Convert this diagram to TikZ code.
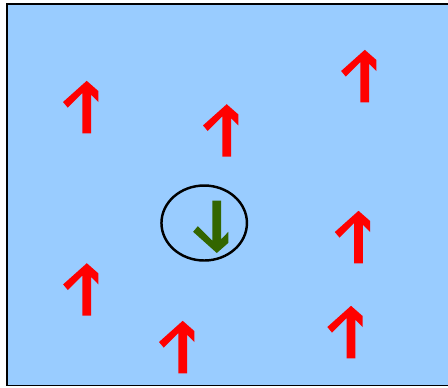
\documentclass[tikz,border=0pt]{standalone}
\usepackage{xcolor}
\usetikzlibrary{shapes.geometric}
\definecolor{sky}{HTML}{99CCFF}
\definecolor{spinred}{HTML}{FF0000}
\definecolor{spingreen}{HTML}{336600}

\tikzset{
  spin/.pic={
    \fill (-4.4,0) -- (4.4,0) -- (4.4,-38.6) -- (11.6,-31.3) -- (11.6,-42.3)
      -- (0,-52.5) -- (-23.7,-31.3) -- (-19,-25.7) -- (-4.4,-40.3) -- cycle;
  },
  ring/.style={ellipse, draw, line width=1.4pt, inner sep=0pt,
               minimum width=1.71cm, minimum height=1.5cm}
}

\begin{document}
\begin{tikzpicture}[x=0.02cm, y=-0.02cm]
\clip (0,0) rectangle (448,387);

% ---- Frame ----
\fill[sky] (7,4) rectangle (470,385.5);
\draw[line width=0.85pt] (470,4) -- (7,4) -- (7,385.5) -- (470,385.5);

% ---- Up spins ----
\pic[spinred] (s1) at (86.7,133.3) {spin};
\pic[spinred] (s2) at (364.8,102.3) {spin};
\pic[spinred] (s3) at (226.7,156.7) {spin};
\pic[spinred] (s4) at (358.5,263.3) {spin};
\pic[spinred] (s5) at (86.8,315.7) {spin};
\pic[spinred] (s6) at (182.7,373.3) {spin};
\pic[spinred] (s7) at (351,358.3) {spin};

% ---- Flipped spin ----
\pic[spingreen, yscale=-1] (flip) at (216.8,200.5) {spin};
\node[ring] (hole) at (204.2,223) {};

\end{tikzpicture}
\end{document}
